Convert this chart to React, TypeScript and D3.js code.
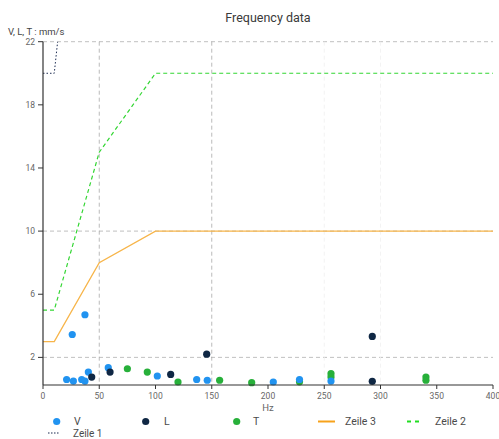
import React from "react";
import * as d3 from "d3";

// scatter series: [Hz, mm/s]
const vPoints = [
  [21, 0.6], [26, 3.45], [27, 0.5], [34.4, 0.6], [37.3, 0.5], [37.3, 4.7],
  [40.3, 1.07], [58, 1.35], [101.6, 0.82], [136.6, 0.6], [146, 0.55],
  [204.7, 0.44], [228, 0.6], [256, 0.5],
];
const lPoints = [
  [43.3, 0.75], [59.6, 1.07], [113.5, 0.92], [145.5, 2.2], [292.7, 3.33], [292.7, 0.48],
];
const tPoints = [
  [75, 1.28], [92.7, 1.07], [120, 0.44], [157, 0.55], [185.5, 0.4], [228, 0.45],
  [256, 0.97], [256, 0.75], [340.4, 0.75], [340.4, 0.55],
];

// limit lines
const zeile1 = [[0, 20], [10, 20], [13, 22]];
const zeile2 = [[0, 5], [10, 5], [50, 15], [100, 20], [400, 20]];
const zeile3 = [[0, 3], [10, 3], [50, 8], [100, 10], [400, 10]];

const xTicks = [0, 50, 100, 150, 200, 250, 300, 350, 400];
const yTicks = [2, 6, 10, 14, 18, 22];
const hGrid = [2, 10, 22];
const vGrid = [50, 150];
const vGridFaint = [250, 300];

const W = 499;
const H = 439;
const font = "Roboto, Arial, sans-serif";

export default function App() {
  const x = d3.scaleLinear().domain([0, 400]).range([43, 493]);
  const y = d3.scaleLinear().domain([0.25, 22]).range([385, 41.7]);
  const line = d3
    .line<number[]>()
    .x((d) => x(d[0]))
    .y((d) => y(d[1]));

  const dots = (pts: number[][], color: string, key: string) =>
    pts.map((p, i) => (
      <circle key={key + i} cx={x(p[0])} cy={y(p[1])} r={3.6} fill={color} />
    ));

  return (
    <svg
      width={W}
      height={H}
      style={{ position: "absolute", left: 0, top: 0, background: "#fff" }}
      fontFamily={font}
    >
      <defs>
        <clipPath id="plot">
          <rect x={43} y={41.7} width={450} height={343.3} />
        </clipPath>
      </defs>
      <text x={268} y={22} textAnchor="middle" fontSize={12.5} fill="#3a3a3a">
        Frequency data
      </text>
      <text x={8} y={35} fontSize={9.5} fill="#444">
        V, L, T : mm/s
      </text>

      {/* grid */}
      {hGrid.map((g) => (
        <line key={"h" + g} x1={x(0)} x2={x(400)} y1={y(g)} y2={y(g)}
          stroke="#b0b0b0" strokeDasharray="4,3" strokeWidth={0.8} />
      ))}
      {vGrid.map((g) => (
        <line key={"v" + g} x1={x(g)} x2={x(g)} y1={y(22)} y2={y(0.25)}
          stroke="#a8a8a8" strokeDasharray="4,3" strokeWidth={0.8} />
      ))}
      {vGridFaint.map((g) => (
        <line key={"vf" + g} x1={x(g)} x2={x(g)} y1={y(22)} y2={y(0.25)}
          stroke="#f0f0f0" strokeDasharray="4,3" strokeWidth={0.8} />
      ))}

      {/* lines */}
      <g clipPath="url(#plot)" fill="none">
        <path d={line(zeile3) || ""} stroke="#f7b54a" strokeWidth={1.3} />
        <path d={line(zeile2) || ""} stroke="#33d633" strokeWidth={1.2} strokeDasharray="4,3" />
        <path d={line(zeile1) || ""} stroke="#1a2a50" strokeWidth={1} strokeDasharray="1.5,2" />
      </g>

      {/* points */}
      <g>
        {dots(tPoints, "#27b03a", "t")}
        {dots(vPoints, "#2193f0", "v")}
        {dots(lPoints, "#0f2744", "l")}
      </g>

      {/* axes */}
      <line x1={x(0)} x2={x(0)} y1={y(22)} y2={y(0.25)} stroke="#333" strokeWidth={1.2} />
      <line x1={x(0)} x2={x(400)} y1={y(0.25)} y2={y(0.25)} stroke="#333" strokeWidth={1.2} />
      {yTicks.map((t) => (
        <g key={"yt" + t}>
          <line x1={x(0) - 5} x2={x(0)} y1={y(t)} y2={y(t)} stroke="#333" />
          <text x={x(0) - 8} y={y(t) + 3} textAnchor="end" fontSize={8.5} fill="#666">
            {t}
          </text>
        </g>
      ))}
      {xTicks.map((t) => (
        <g key={"xt" + t}>
          <line x1={x(t)} x2={x(t)} y1={y(0.25)} y2={y(0.25) + 4} stroke="#333" />
          <text x={x(t)} y={y(0.25) + 14} textAnchor="middle" fontSize={8.5} fill="#666">
            {t}
          </text>
        </g>
      ))}
      <text x={268} y={411} textAnchor="middle" fontSize={9.5} fill="#666">
        Hz
      </text>

      {/* legend */}
      <g fontSize={10.5} fill="#4a4a4a">
        <circle cx={56.7} cy={421.5} r={3.6} fill="#2193f0" />
        <text x={74} y={425}>V</text>
        <circle cx={145.7} cy={421.5} r={3.6} fill="#0f2744" />
        <text x={164} y={425}>L</text>
        <circle cx={236.7} cy={421.5} r={3.6} fill="#27b03a" />
        <text x={253} y={425}>T</text>
        <line x1={318} x2={335} y1={421.5} y2={421.5} stroke="#f7a21b" strokeWidth={2} />
        <text x={345} y={425}>Zeile 3</text>
        <line x1={407} x2={422} y1={421.5} y2={421.5} stroke="#22dd22" strokeWidth={2} strokeDasharray="4,4" />
        <text x={435} y={425}>Zeile 2</text>
        <line x1={48} x2={60} y1={433} y2={433} stroke="#1a2a50" strokeWidth={1.2} strokeDasharray="1.5,1.5" />
        <text x={73} y={436.5} fontSize={10}>Zeile 1</text>
      </g>
    </svg>
  );
}
